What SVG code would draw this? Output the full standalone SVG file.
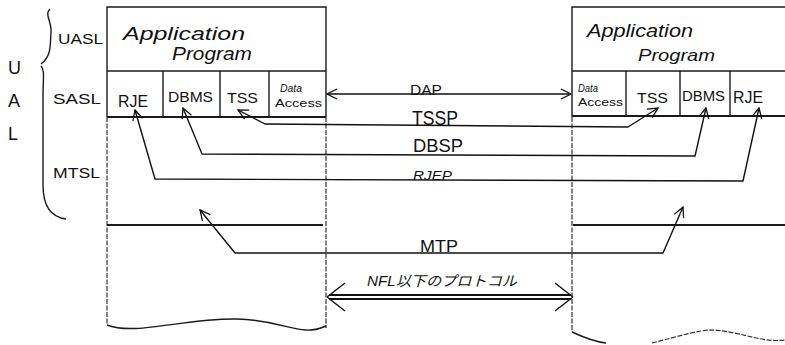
<svg xmlns="http://www.w3.org/2000/svg" width="785" height="345" viewBox="0 0 785 345">
<style>
.t{font-family:"Liberation Sans","Noto Sans CJK JP",sans-serif;fill:#111}
.i{font-style:italic}
.ln{stroke:#1a1a1a;stroke-width:1.4;fill:none}
.hl{stroke:#1a1a1a;stroke-width:1.8;fill:none}
.dl{stroke:#333;stroke-width:1.2;fill:none;stroke-dasharray:5 1.5}
.cn{stroke:#111;stroke-width:1.4;fill:none;stroke-linejoin:round}
</style>
<defs>
<marker id="ah" viewBox="0 0 12 12" refX="11" refY="6" markerWidth="12" markerHeight="12" markerUnits="userSpaceOnUse" orient="auto-start-reverse">
<path d="M1,1 L11,6 L1,11" fill="none" stroke="#111" stroke-width="1.3"/>
</marker>
</defs>

<g id="layer-labels">
<text class="t" x="8" y="74" font-size="18">U</text>
<text class="t" x="8" y="107" font-size="18">A</text>
<text class="t" x="8" y="140" font-size="18">L</text>
<path class="ln" d="M50,9 C44,14 52,22 51,32 C50,44 52,56 41,64"/>
<path class="ln" d="M41,66 C45,70 43,80 43,95 L43,185 C43,205 50,217 66,219"/>
<text class="t" x="58" y="44" font-size="15" textLength="45" lengthAdjust="spacingAndGlyphs">UASL</text>
<text class="t" x="53" y="104" font-size="15" textLength="48" lengthAdjust="spacingAndGlyphs">SASL</text>
<text class="t" x="53" y="178" font-size="14" textLength="47" lengthAdjust="spacingAndGlyphs">MTSL</text>
</g>

<g id="left-host">
<path class="ln" d="M107,117 L107,7 L326,7 L326,117"/>
<path class="dl" d="M107,117 L107,325 M326,117 L326,328"/>
<path class="ln" d="M107,325 C135,336 185,318 237,319 C285,320 300,338 326,326"/>
<line class="ln" x1="107" y1="71" x2="326" y2="71"/>
<line class="hl" x1="107" y1="117" x2="326" y2="117"/>
<line class="ln" x1="163" y1="71" x2="163" y2="117"/>
<line class="ln" x1="220" y1="71" x2="220" y2="117"/>
<line class="ln" x1="269" y1="71" x2="269" y2="117"/>
<line class="hl" x1="107" y1="225" x2="323" y2="225"/>
<text class="t i" x="123" y="40" font-size="19" textLength="122" lengthAdjust="spacingAndGlyphs">Application</text>
<text class="t i" x="172" y="60" font-size="18" textLength="80" lengthAdjust="spacingAndGlyphs">Program</text>
<text class="t" x="118" y="107" font-size="16" textLength="30" lengthAdjust="spacingAndGlyphs">RJE</text>
<text class="t" x="168" y="102" font-size="15" textLength="45" lengthAdjust="spacingAndGlyphs">DBMS</text>
<text class="t" x="227" y="103" font-size="15" textLength="31" lengthAdjust="spacingAndGlyphs">TSS</text>
<text class="t i" x="280" y="92" font-size="10" textLength="22" lengthAdjust="spacingAndGlyphs">Data</text>
<text class="t" x="275" y="107" font-size="11" textLength="47" lengthAdjust="spacingAndGlyphs">Access</text>
</g>

<g id="right-host">
<path class="ln" d="M572,117 L572,7 L785,7"/>
<path class="dl" d="M572,117 L572,332"/>
<path class="ln" d="M572,332 C585,338 596,342 606,343"/>
<path class="dl" d="M652,343 C680,336 698,330 712,330 C740,331 760,343 785,340"/>
<line class="ln" x1="572" y1="71" x2="785" y2="71"/>
<line class="hl" x1="572" y1="116" x2="785" y2="116"/>
<line class="ln" x1="626" y1="71" x2="626" y2="116"/>
<line class="ln" x1="680" y1="71" x2="680" y2="116"/>
<line class="ln" x1="730" y1="71" x2="730" y2="116"/>
<line class="hl" x1="573" y1="225" x2="785" y2="225"/>
<text class="t i" x="587" y="37" font-size="18" textLength="106" lengthAdjust="spacingAndGlyphs">Application</text>
<text class="t i" x="638" y="61" font-size="17" textLength="77" lengthAdjust="spacingAndGlyphs">Program</text>
<text class="t i" x="578" y="92" font-size="10" textLength="20" lengthAdjust="spacingAndGlyphs">Data</text>
<text class="t" x="578" y="106" font-size="11" textLength="45" lengthAdjust="spacingAndGlyphs">Access</text>
<text class="t" x="637" y="103" font-size="15" textLength="31" lengthAdjust="spacingAndGlyphs">TSS</text>
<text class="t" x="682" y="101" font-size="14" textLength="43" lengthAdjust="spacingAndGlyphs">DBMS</text>
<text class="t" x="733" y="103" font-size="16" textLength="30" lengthAdjust="spacingAndGlyphs">RJE</text>
</g>

<g id="connectors">
<line class="cn" x1="327" y1="94" x2="571" y2="94" marker-start="url(#ah)" marker-end="url(#ah)"/>
<polyline class="cn" points="238,110 265,124 628,127 658,108" marker-start="url(#ah)" marker-end="url(#ah)"/>
<polyline class="cn" points="183,108 202,154 695,156 706,108" marker-start="url(#ah)" marker-end="url(#ah)"/>
<polyline class="cn" points="135,110 155,179 743,181 759,108" marker-start="url(#ah)" marker-end="url(#ah)"/>
<polyline class="cn" points="200,210 235,253 663,253 683,207" marker-start="url(#ah)" marker-end="url(#ah)"/>
<line x1="329" y1="295" x2="571" y2="295" stroke="#111" stroke-width="1.8"/>
<line x1="329" y1="299" x2="571" y2="299" stroke="#111" stroke-width="2.2"/>
<path d="M327,297 L345,283 M327,297 L345,311 M573,297 L555,283 M573,297 L555,311" fill="none" stroke="#111" stroke-width="1.4"/>
</g>

<g id="connector-labels">
<text class="t" x="410" y="95" font-size="14" textLength="32" lengthAdjust="spacingAndGlyphs">DAP</text>
<text class="t" x="412" y="125" font-size="20" textLength="46" lengthAdjust="spacingAndGlyphs">TSSP</text>
<text class="t" x="413" y="152" font-size="18" textLength="50" lengthAdjust="spacingAndGlyphs">DBSP</text>
<text class="t i" x="413" y="180" font-size="13" textLength="39" lengthAdjust="spacingAndGlyphs">RJEP</text>
<text class="t" x="420" y="252" font-size="17" textLength="38" lengthAdjust="spacingAndGlyphs">MTP</text>
<text class="t i" x="367" y="286" font-size="14" textLength="150" lengthAdjust="spacingAndGlyphs">NFL以下のプロトコル</text>
</g>
</svg>
